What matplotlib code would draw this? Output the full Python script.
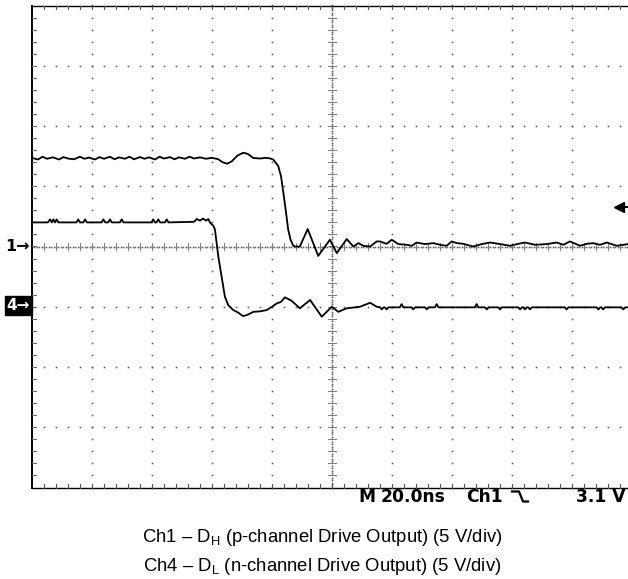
import matplotlib
matplotlib.use("Agg")
import matplotlib.pyplot as plt
import numpy as np

W, H = 628, 579
plt.rcParams['mathtext.fontset'] = 'custom'
plt.rcParams['mathtext.rm'] = 'Liberation Sans'
plt.rcParams['mathtext.it'] = 'Liberation Sans:italic'

# ---------------- data ----------------
time_per_div_ns = 20
volts_per_div = 5
ch1_ground_div = 0.0
ch4_ground_div = -1.0
trigger_level_v = 3.1

ch1_time_ns = [-100, -98, -96.5, -95, -93, -91, -89.5, -88, -86, -84, -82.5, -81, -79, -77.5,
               -76, -74, -72.5, -71, -69, -67.5, -66, -64, -62.5, -61, -59, -57.5, -56, -54,
               -52.5, -51, -49, -47.5, -46, -44, -42, -40,
               -38, -36.5, -35, -33.5, -31.5, -29.6, -28, -26.3, -24, -22, -20.5, -19.6, -17.9,
               -17, -16.2, -15.3, -14.6, -13.8, -12.9, -12.3, -10.7, -8.1, -4.6, -0.7, 1.6, 4.9,
               7.1, 8.8, 10.5, 12.7, 14.9,
               16, 18.2, 19.9, 22.1, 24.9, 26.6, 28.2, 30.9, 33.8, 36, 38.2, 39.9, 41.6, 43.8,
               44.9, 47.1, 49.9, 52.7, 56, 59.3, 62.1, 64.3, 67.7, 71.6, 74.9, 77.1, 79.3, 82.7,
               84.9, 87.1, 89.3, 91.6, 94.9, 98.7, 100]
ch1_volts = [7.35, 7.22, 7.45, 7.28, 7.40, 7.22, 7.42, 7.30, 7.24, 7.45, 7.28, 7.38, 7.22, 7.42,
             7.28, 7.45, 7.24, 7.40, 7.28, 7.45, 7.24, 7.42, 7.28, 7.40, 7.22, 7.45, 7.30, 7.42,
             7.24, 7.40, 7.28, 7.45, 7.30, 7.40, 7.28, 7.36,
             7.25, 7.0, 6.87, 7.05, 7.55, 7.78, 7.68, 7.35, 7.30, 7.36, 7.30, 7.22, 6.67,
             5.83, 4.45, 2.78, 1.39, 0.56, 0.06, 0.0, 0.0, 1.45, -0.78, 0.56, -0.55, 0.62,
             0.0, 0.28, 0.05, 0.0, 0.42,
             0.42, 0.22, 0.56, 0.20, 0.14, 0.06, 0.33, 0.20, 0.28, 0.14, 0.06, 0.42, 0.28, 0.22,
             0.14, 0.0, 0.20, 0.33, 0.20, 0.06, 0.22, 0.33, 0.14, 0.20, 0.33, 0.14, 0.42, 0.06,
             0.22, 0.28, 0.14, 0.33, 0.06, 0.20, 0.20]

ch4_time_ns = [-100, -94.7, -94, -93.4, -92.9, -92.3, -91.8, -91.2, -90.6, -85.2, -84.6, -84.0,
               -82.9, -82.3, -81.7, -76.8, -76.2, -75.6, -74.6, -74, -73.4, -70.7, -70.1, -69.5,
               -60.2, -59.6, -59.0, -58.5, -57.9, -57.3, -55.7, -55.1, -54.5,
               -46, -45.1, -44, -43, -42, -41.2, -40.7, -39.5, -39, -37.9, -36.8, -35.7, -34.6,
               -32.9, -31.5, -29.6, -28, -26.2, -24, -21.8, -20, -18.4, -17, -15.7, -13.5, -10.7,
               -7.3, -3.4, -0.1, 2.1, 4.9, 9.3, 12.7, 14.9,
               16.0, 16.6, 17.2, 17.6, 18.2, 18.8, 22.6, 23.2, 23.8, 26.5, 27.1, 27.7, 31.0, 31.6,
               32.2, 34.3, 34.9, 35.5, 47.6, 48.2, 48.8, 51.0, 51.6, 52.2, 55.4, 56, 56.6, 62.1,
               62.7, 63.3, 63.7, 64.3, 64.9, 65.4, 66, 66.6, 77.6, 78.2, 78.8, 88.2, 88.8, 89.4,
               89.8, 90.4, 91.0, 96.5, 97.1, 97.7, 100]
ch4_volts = [7.0, 7.0, 7.25, 7.0, 7.25, 7.0, 7.25, 7.0, 7.0, 7.0, 7.25, 7.0,
             7.0, 7.25, 7.0, 7.0, 7.25, 7.0, 7.0, 7.25, 7.0, 7.0, 7.25, 7.0,
             7.0, 7.25, 7.0, 7.0, 7.25, 7.0, 7.0, 7.25, 7.0,
             7.05, 7.28, 7.15, 7.32, 7.15, 7.28, 7.0, 6.7, 6.39, 4.17, 2.5, 0.83, 0.14,
             -0.28, -0.45, -0.78, -0.65, -0.42, -0.38, -0.28, 0.0, 0.28, 0.40, 0.78, 0.5, -0.13,
             0.56, -0.83, 0.0, -0.42, -0.13, 0.0, 0.33, 0.0,
             -0.05, -0.22, -0.05, -0.05, -0.22, -0.05, -0.05, 0.22, -0.05, -0.05, -0.22, -0.05, -0.05, -0.22,
             -0.05, -0.05, 0.22, -0.05, -0.05, 0.22, -0.05, -0.05, -0.22, -0.05, -0.05, -0.22, -0.05, -0.05,
             -0.22, -0.05, -0.05, -0.22, -0.05, -0.05, -0.22, -0.05, -0.05, -0.22, -0.05, -0.05, -0.22, -0.05,
             -0.05, -0.22, -0.05, -0.05, -0.22, -0.05, -0.05]

status_labels = ["M", "20.0ns", "Ch1", "3.1 V"]
caption_lines = ["Ch1 \u2013 D$_\\mathrm{H}$ (p-channel Drive Output) (5 V/div)",
                 "Ch4 \u2013 D$_\\mathrm{L}$ (n-channel Drive Output) (5 V/div)"]

# ---------------- figure ----------------
fig = plt.figure(figsize=(W / 100, H / 100), dpi=100)
fig.patch.set_facecolor("white")

left_px, right_px, top_px, bot_px = 32, 632, 5.5, 487.5
ax = fig.add_axes([left_px / W, 1 - bot_px / H, (right_px - left_px) / W, (bot_px - top_px) / H])
ax.set_xlim(-5 * time_per_div_ns, 5 * time_per_div_ns)
ax.set_ylim(-4, 4)
ax.axis("off")
ax.set_facecolor("white")

dot_kw = dict(linestyle="none", marker="s", markersize=1.15, color="#5a5a5a",
              markeredgewidth=0, clip_on=False)
minor_x = time_per_div_ns / 5
minor_y = 0.2
ys_minor = np.arange(-4, 4.001, minor_y)
xs_minor = np.arange(-100, 100.001, minor_x)

# major vertical dotted lines
for t in np.arange(-80, 100, 20):
    if t == 0:
        continue
    ax.plot(np.full_like(ys_minor, t), ys_minor, **dot_kw)
# major horizontal dotted lines
for y in range(-3, 4):
    if y == 0:
        continue
    ax.plot(xs_minor, np.full_like(xs_minor, y), **dot_kw)

# centre lines (denser dots + cross ticks)
yc = np.arange(-4, 4.001, minor_y / 5)
ax.plot(np.zeros_like(yc), yc, **dot_kw)
xc = np.arange(-100, 100.001, minor_x / 5)
ax.plot(xc, np.zeros_like(xc), **dot_kw)
for y in ys_minor:
    ax.plot([-1.3, 1.3], [y, y], color="#7a7a7a", lw=0.7)
for t in xs_minor:
    ax.plot([t, t], [-0.065, 0.065], color="#7a7a7a", lw=0.7)

# border frame and border ticks
ax.plot([-100, -100], [-4, 4], color="black", lw=1.4, clip_on=False)
ax.plot([-100, 110], [4, 4], color="black", lw=1.0, clip_on=False)
ax.plot([-100, 110], [-4, -4], color="black", lw=1.0, clip_on=False)
for t in xs_minor[1:]:
    ax.plot([t, t], [4, 3.94], color="#555555", lw=0.8, clip_on=False)
    ax.plot([t, t], [-4, -3.94], color="#555555", lw=0.8, clip_on=False)
for y in ys_minor[1:-1]:
    ax.plot([-100, -98.8], [y, y], color="#666666", lw=0.8)

# traces
ch1_div = np.array(ch1_volts) / volts_per_div + ch1_ground_div
ch4_div = np.array(ch4_volts) / volts_per_div + ch4_ground_div
ax.plot(ch1_time_ns, ch1_div, color="black", lw=1.3, solid_joinstyle="round")
ax.plot(ch4_time_ns, ch4_div, color="black", lw=1.3, solid_joinstyle="round")

# trigger level marker
trig_div = trigger_level_v / volts_per_div + ch1_ground_div
ax.plot([95.5], [trig_div + 0.03], marker="<", markersize=7, color="black", linestyle="none", clip_on=False)
ax.plot([95.5, 100], [trig_div + 0.03, trig_div + 0.03], color="black", lw=1.4)

# ground markers
def fx(px):
    return px / W

def fy(py):
    return 1 - py / H

fig.text(fx(30), fy(246.7), "1\u2192", ha="right", va="center", fontsize=11.5,
         fontweight="bold", family="DejaVu Sans", color="black")
fig.text(fx(30), fy(305.5), "4\u2192", ha="right", va="center", fontsize=11,
         fontweight="bold", family="DejaVu Sans", color="white",
         bbox=dict(boxstyle="square,pad=0.12", facecolor="black", edgecolor="black"))

# status line
st_kw = dict(va="baseline", fontsize=12.3, fontweight="bold", family="DejaVu Sans", color="black")
base = 502
fig.text(fx(358), fy(base), status_labels[0], ha="left", **st_kw)
fig.text(fx(381), fy(base), status_labels[1], ha="left", **st_kw)
fig.text(fx(466), fy(base), status_labels[2], ha="left", **st_kw)
fig.text(fx(626), fy(base), status_labels[3], ha="right", **st_kw)
# falling-edge trigger symbol
fig.add_artist(plt.Line2D([fx(512), fx(519), fx(523), fx(528)],
                          [fy(491.5), fy(491.5), fy(501.5), fy(501.5)],
                          color="black", lw=1.6, transform=fig.transFigure))

# captions
for i, line in enumerate(caption_lines):
    fig.text(fx(322), fy(538 + 28.5 * i), line, ha="center", va="center",
             fontsize=13.3, family="Liberation Sans", color="black")

fig.savefig("out.png", dpi=100, facecolor="white")
